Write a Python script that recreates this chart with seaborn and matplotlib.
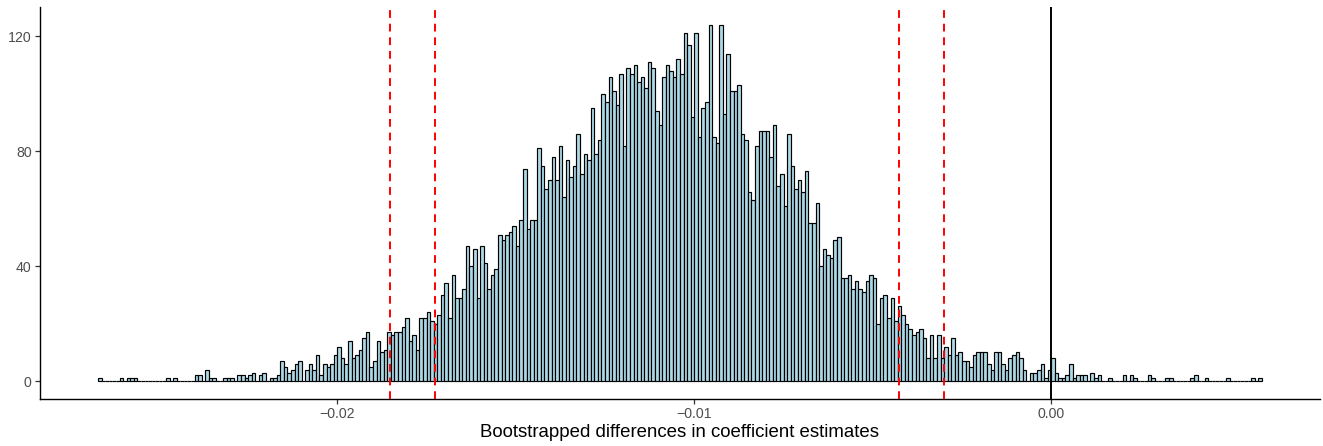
import numpy as np
import pandas as pd
import matplotlib
matplotlib.use("Agg")
import matplotlib.pyplot as plt
import seaborn as sns

# Histogram of bootstrapped coefficient differences (bin width 0.0001)
bin_start = -0.0267
bin_width = 0.0001
counts = [
    1, 0, 0, 0, 0, 0, 1, 0, 1, 1,          # 0-9
    1, 0, 0, 0, 0, 0, 0, 0, 0, 1,          # 10-19
    0, 1, 0, 0, 0, 0, 0, 2, 2, 0,          # 20-29
    4, 1, 1, 0, 0, 1, 1, 1, 0, 2,          # 30-39
    2, 1, 2, 3, 0, 2, 3, 0, 1, 1,          # 40-49
    2, 7, 5, 3, 4, 6, 7, 0, 4, 6,          # 50-59
    4, 9, 2, 6, 5, 6, 9, 12, 8, 6,         # 60-69
    14, 8, 9, 11, 15, 17, 5, 7, 14, 10,    # 70-79
    11, 17, 16, 17, 17, 19, 22, 14, 16, 11,  # 80-89
    22, 22, 24, 21, 20, 23, 30, 34, 22, 37,  # 90-99
    29, 29, 32, 47, 40, 46, 29, 47, 41, 32,  # 100-109
    37, 39, 51, 49, 51, 52, 54, 47, 56, 74,  # 110-119
    53, 56, 56, 81, 75, 67, 70, 78, 70, 82,  # 120-129
    64, 77, 71, 75, 86, 72, 79, 77, 95, 79,  # 130-139
    84, 100, 97, 106, 101, 96, 107, 82, 109, 107,  # 140-149
    110, 104, 106, 102, 111, 109, 94, 89, 106, 110,  # 150-159
    108, 106, 112, 107, 121, 117, 92, 121, 85, 95,   # 160-169
    97, 124, 85, 83, 124, 93, 114, 101, 101, 103,    # 170-179
    86, 84, 66, 63, 82, 87, 87, 87, 78, 89,  # 180-189
    68, 72, 61, 86, 75, 67, 70, 66, 73, 55,  # 190-199
    55, 62, 40, 46, 44, 43, 49, 50, 36, 36,  # 200-209
    37, 32, 35, 32, 31, 35, 37, 36, 20, 29,  # 210-219
    30, 22, 29, 21, 26, 23, 20, 18, 16, 17,  # 220-229
    18, 15, 8, 16, 8, 16, 8, 12, 9, 15,      # 230-239
    9, 10, 7, 7, 5, 9, 10, 10, 10, 6,        # 240-249
    4, 10, 10, 6, 4, 8, 9, 10, 8, 4,         # 250-259
    0, 3, 3, 4, 6, 1, 4, 8, 3, 1,            # 260-269
    1, 2, 6, 1, 2, 2, 2, 0, 3, 1,            # 270-279
    2, 0, 0, 1, 0, 0, 0, 2, 0, 2,            # 280-289
    1, 0, 0, 0, 2, 1, 0, 0, 0, 1,            # 290-299
    1, 0, 0, 0, 0, 0, 1, 2, 0, 0,            # 300-309
    1, 0, 0, 0, 0, 0, 1, 0, 0, 0,            # 310-319
    0, 0, 0, 1, 0, 1,                        # 320-325
]

# Interval bounds (dashed) and the zero reference (solid)
interval_bounds = [-0.01853, -0.01727, -0.00426, -0.00300]
zero_line = 0.0

x_ticks = [-0.02, -0.01, 0.00]
y_ticks = [0, 40, 80, 120]
x_title = "Bootstrapped differences in coefficient estimates"

counts = np.array(counts, dtype=float)
n_bins = len(counts)
edges = bin_start + bin_width * np.arange(n_bins + 1)
centers = edges[:-1] + bin_width / 2
hist_df = pd.DataFrame({"diff": centers, "n": counts})

sns.set_theme(style="ticks")
plt.rcParams["font.family"] = ["Liberation Sans", "DejaVu Sans"]

fig = plt.figure(figsize=(13.23, 4.46), dpi=100)
# panel spans x 40..1320 px, y 7..399 px
ax = fig.add_axes([40 / 1323, 47 / 446, 1280 / 1323, 392 / 446])

sns.histplot(data=hist_df, x="diff", weights="n", bins=edges.tolist(), ax=ax,
             color="#ADD8E6", edgecolor="black", linewidth=0.85,
             alpha=1.0, legend=False)

for b in interval_bounds:
    ax.axvline(b, color="red", linestyle=(0, (4, 3)), linewidth=1.4, zorder=3)
ax.axvline(zero_line, color="black", linewidth=1.4, zorder=3)

# 5% padding around the data range on both axes
x_lo, x_hi = edges[0], edges[-1]
pad_x = 0.05 * (x_hi - x_lo)
ax.set_xlim(x_lo - pad_x, x_hi + pad_x)
pad_y = 0.05 * counts.max()
ax.set_ylim(-pad_y, counts.max() + pad_y)

ax.set_xticks(x_ticks)
ax.set_xticklabels([f"{t:.2f}".replace("-", "\u2212") for t in x_ticks])
ax.set_yticks(y_ticks)
ax.set_yticklabels([str(t) for t in y_ticks])

ax.set_xlabel(x_title, fontsize=13.4, color="black", labelpad=2)
ax.set_ylabel("")
ax.tick_params(axis="both", colors="#333333", labelcolor="#4D4D4D",
               labelsize=10.2, length=3.5, width=0.9, pad=2.5)
for side in ["top", "right"]:
    ax.spines[side].set_visible(False)
for side in ["left", "bottom"]:
    ax.spines[side].set_color("black")
    ax.spines[side].set_linewidth(1.0)

fig.savefig("out.png", dpi=100)
